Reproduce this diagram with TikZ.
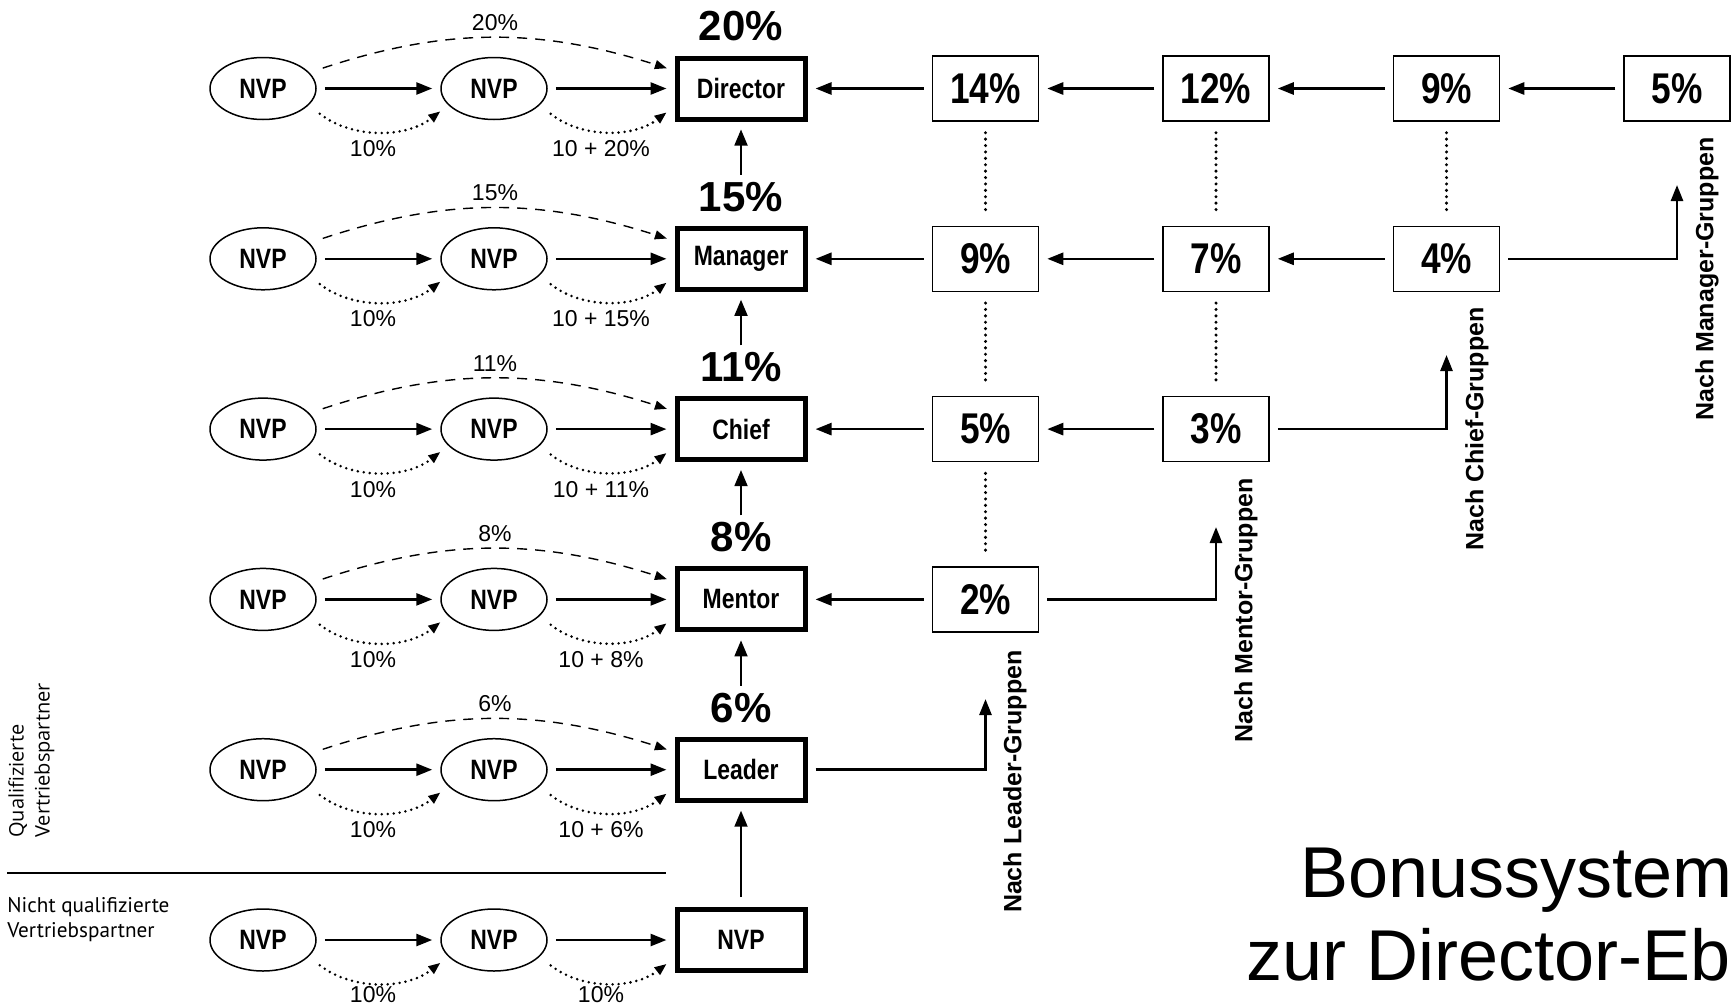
\documentclass[tikz,border=0pt]{standalone}
\usepackage{xcolor}
\usepackage{fontspec}
\setmainfont{Liberation Sans}
\newfontfamily\narrowfont[FakeStretch=0.82]{Liberation Sans}
\newfontfamily\notefont{PT Sans}
\newfontfamily\widefont{Open Sans}
\usepackage{tikz}
\usetikzlibrary{arrows.meta,shapes.geometric}

\tikzset{
    nvp/.style={ellipse, draw, line width=0.75pt, minimum width=53pt, minimum height=31pt, inner sep=0pt,
        font=\narrowfont\bfseries\fontsize{14}{16}\selectfont},
    rank/.style={rectangle, draw, line width=2.5pt, minimum width=64pt, minimum height=30.5pt, inner sep=0pt,
        font=\narrowfont\bfseries\fontsize{14}{16}\selectfont},
    share/.style={rectangle, draw, line width=0.75pt, minimum width=53pt, minimum height=32.5pt, inner sep=0pt,
        font=\narrowfont\bfseries\fontsize{21.5}{24}\selectfont},
    total/.style={font=\bfseries\fontsize{21}{23}\selectfont},
    rate/.style={font=\fontsize{11.5}{13}\selectfont},
    group/.style={rotate=90, inner sep=0pt, anchor=east, font=\bfseries\fontsize{12.5}{14}\selectfont},
    flow/.style={-{Triangle[length=8pt,width=6pt]}, line width=1.3pt, shorten <=4pt, shorten >=4pt},
    rise/.style={-{Triangle[length=8pt,width=6.5pt]}, line width=0.9pt, shorten >=4pt},
    skip/.style={-{Triangle[length=6pt,width=4.5pt]}, line width=0.7pt, dash pattern=on 5pt off 4pt,
        shorten <=7pt, shorten >=4pt},
    hop/.style={-{Triangle[length=6pt,width=4.5pt]}, line width=1.4pt, line cap=round,
        dash pattern=on 0pt off 3pt, shorten <=7pt, shorten >=5pt},
    link/.style={line width=1.7pt, line cap=round, dash pattern=on 0pt off 3.2pt,
        shorten <=5.5pt, shorten >=5.5pt},
}

\begin{document}
\begin{tikzpicture}[x=0.5pt, y=-0.5pt]
    \useasboundingbox (0,0) rectangle (1734,1007);
    % qualified rows
    \foreach \k/\rank/\pct in {0/Director/20, 1/Manager/15, 2/Chief/11, 3/Mentor/8, 4/Leader/6} {
        \pgfmathsetmacro\y{88.5+170.3*\k}
        \node [nvp] (a\k) at (263,\y) {NVP};
        \node [nvp] (b\k) at (494,\y) {NVP};
        \node [rank] (r\k) at (741,\y) {\rank};
        \node [total] (t\k) at (741,\y-62) {\pct\%};
        \node [rate] (u\k) at (495,\y-66) {\pct\%};
        \node [rate] (v\k) at (373,\y+60) {10\%};
        \node [rate] (w\k) at (601,\y+60) {10 + \pct\%};
        \draw [flow] (a\k) -- (b\k);
        \draw [flow] (b\k) -- (r\k);
        \draw [skip] (a\k.19) to [bend left=18] (r\k.165);
        \draw [hop] (a\k.-20) to [bend right=38] (b\k.200);
        \draw [hop] (b\k.-20) to [bend right=38] (r\k.195);
    }
    % not qualified row
    \node [nvp] (a5) at (263,940) {NVP};
    \node [nvp] (b5) at (494,940) {NVP};
    \node [rank] (r5) at (741,940) {NVP};
    \node [rate] (v5) at (373,995) {10\%};
    \node [rate] (w5) at (601,995) {10\%};
    \draw [flow] (a5) -- (b5);
    \draw [flow] (b5) -- (r5);
    \draw [hop] (a5.-20) to [bend right=38] (b5.200);
    \draw [hop] (b5.-20) to [bend right=38] (r5.195);
    % ranks upwards
    \foreach \k [evaluate=\k as \j using int(\k+1)] in {0,...,3}
        \draw [rise] (t\j.north) -- (r\k.south);
    \draw [rise, shorten <=5pt] (r5.north) -- (r4.south);
    % group shares
    \foreach \k/\list in {0/{14,12,9,5}, 1/{9,7,4}, 2/{5,3}, 3/{2}} {
        \foreach \v [count=\c from 0] in \list {
            \pgfmathtruncatemacro\p{\c-1}
            \node [share] (s\k\c) at ({985.5+230.5*\c},{88.5+170.3*\k}) {\v\%};
            \ifnum\c=0
                \draw [flow] (s\k\c) -- (r\k);
            \else
                \draw [flow] (s\k\c) -- (s\k\p);
            \fi
        }
    }
    \foreach \a/\b in {s00/s10, s10/s20, s20/s30, s01/s11, s11/s21, s02/s12}
        \draw [link] (\a) -- (\b);
    % to the groups
    \coordinate (g4) at (985.5,699);
    \coordinate (g3) at (1216,527);
    \coordinate (g2) at (1446.5,355);
    \coordinate (g1) at (1677,185);
    \draw [flow, shorten >=0pt] (r4.east) -| (g4);
    \draw [flow, shorten >=0pt] (s30.east) -| (g3);
    \draw [flow, shorten >=0pt] (s21.east) -| (g2);
    \draw [flow, shorten >=0pt] (s12.east) -| (g1);
    \node [group] (l4) at (1015,650) {Nach Leader-Gruppen};
    \node [group] (l3) at (1246,478) {Nach Mentor-Gruppen};
    \node [group] (l2) at (1477,307) {Nach Chief-Gruppen};
    \node [group] (l1) at (1707,137) {Nach Manager-Gruppen};
    % left side
    \draw [line width=1.3pt] (7,873) -- (666,873);
    \node [anchor=north west, align=left, inner sep=0pt, font=\notefont\fontsize{10.6}{12.5}\selectfont]
        (nq) at (7,897) {Nicht qualifizierte\\Vertriebspartner};
    \node [rotate=90, anchor=north west, align=left, inner sep=0pt, font=\widefont\fontsize{10}{13}\selectfont]
        (qu) at (8,838) {Qualifizierte\\Vertriebspartner};
    % title
    \node [anchor=base west, inner sep=0pt, font=\fontsize{36}{40}\selectfont] (ti1) at (1300,897) {Bonussystem};
    \node [anchor=base west, inner sep=0pt, font=\fontsize{36}{40}\selectfont] (ti2) at (1246,980) {zur Director-Eb};
\end{tikzpicture}
\end{document}
